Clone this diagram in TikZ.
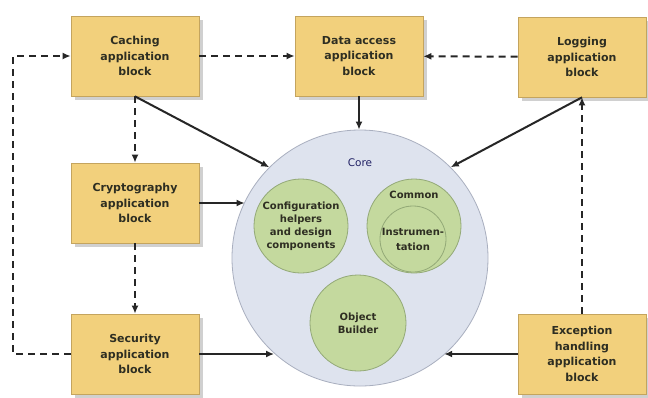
\documentclass[tikz,border=0pt]{standalone}
\usepackage{fontspec}
\setmainfont{DejaVu Sans}
\usetikzlibrary{arrows.meta,shadows,calc}
\definecolor{blockfill}{HTML}{F2D07C}
\definecolor{blockline}{HTML}{C4A45E}
\definecolor{corefill}{HTML}{DEE3EE}
\definecolor{coreline}{HTML}{A9AFBF}
\definecolor{subfill}{HTML}{C4D99E}
\definecolor{subline}{HTML}{93A977}
\definecolor{txt}{HTML}{2E2E22}
\tikzset{
  appblock/.style={draw=blockline, line width=0.7pt, fill=blockfill,
    minimum width=128pt, minimum height=80pt, inner sep=0pt, align=center,
    font=\fontsize{11}{15.5}\selectfont\bfseries, text=txt,
    drop shadow={shadow xshift=3.5pt, shadow yshift=-3.5pt, opacity=0.3, fill=black!60}},
  corecircle/.style={circle, draw=coreline, line width=0.8pt, fill=corefill,
    minimum size=256pt, inner sep=0pt},
  subcircle/.style={circle, draw=subline, line width=0.8pt, fill=subfill,
    inner sep=0pt, align=center, text=txt,
    font=\fontsize{10}{13}\selectfont\bfseries},
  solidlink/.style={line width=2pt, draw=black!85, -{Latex[length=8pt,width=7pt]}},
  dashlink/.style={line width=2pt, draw=black!85, dash pattern=on 7pt off 5pt,
    -{Latex[length=8pt,width=7pt]}},
}
\begin{document}
\begin{tikzpicture}[x=1pt,y=-1pt]
\useasboundingbox (0,0) rectangle (648,397);
\fill[white] (0,0) rectangle (648,397);

% Core and its components
\node[corecircle] (core) at (360,258) {};
\node[text=txt!70!blue, font=\fontsize{10.5}{13}\selectfont] (corelabel) at (360,163) {Core};
\node[subcircle, minimum size=94pt] (config) at (301,226)
  {Configuration\\helpers\\and design\\components};
\node[subcircle, minimum size=94pt] (common) at (414,226) {};
\node[font=\fontsize{10}{13}\selectfont\bfseries, text=txt] (commonlabel) at (414,195) {Common};
\node[subcircle, minimum size=66pt, font=\fontsize{10}{15}\selectfont\bfseries] (instr) at (413,239)
  {Instrumen-\\tation};
\node[subcircle, minimum size=96pt] (builder) at (358,323) {Object\\Builder};

% Application blocks
\node[appblock] (caching) at (135,56) {Caching\\application\\block};
\node[appblock] (data) at (359,56) {Data access\\application\\block};
\node[appblock] (logging) at (582,57) {Logging\\application\\block};
\node[appblock] (crypto) at (135,203) {Cryptography\\application\\block};
\node[appblock] (security) at (135,354) {Security\\application\\block};
\node[appblock] (exception) at (582,354) {Exception\\handling\\application\\block};

% Dependencies between blocks
\coordinate (loop) at (13,354);
\draw[dashlink] (caching) -- (data);
\draw[dashlink] (logging) -- (data);
\draw[dashlink] (security.west) -- (loop) |- (caching.west);
\draw[dashlink] (caching.south) -- (crypto.north);
\draw[dashlink] (crypto.south) -- (security.north);
\draw[dashlink] (exception.north) -- (logging.south);

% Dependencies on the core
\draw[solidlink] (caching.south) -- (core.135);
\draw[solidlink] (data.south) -- (data.south |- core.north);
\draw[solidlink] (logging.south) -- (core.45);
\draw[solidlink] (crypto.east) -- (crypto.east -| core.154.5);
\draw[solidlink] (security.east) -- (security.east -| core.228.6);
\draw[solidlink] (exception.west) -- (exception.west -| core.311.4);
\end{tikzpicture}
\end{document}
